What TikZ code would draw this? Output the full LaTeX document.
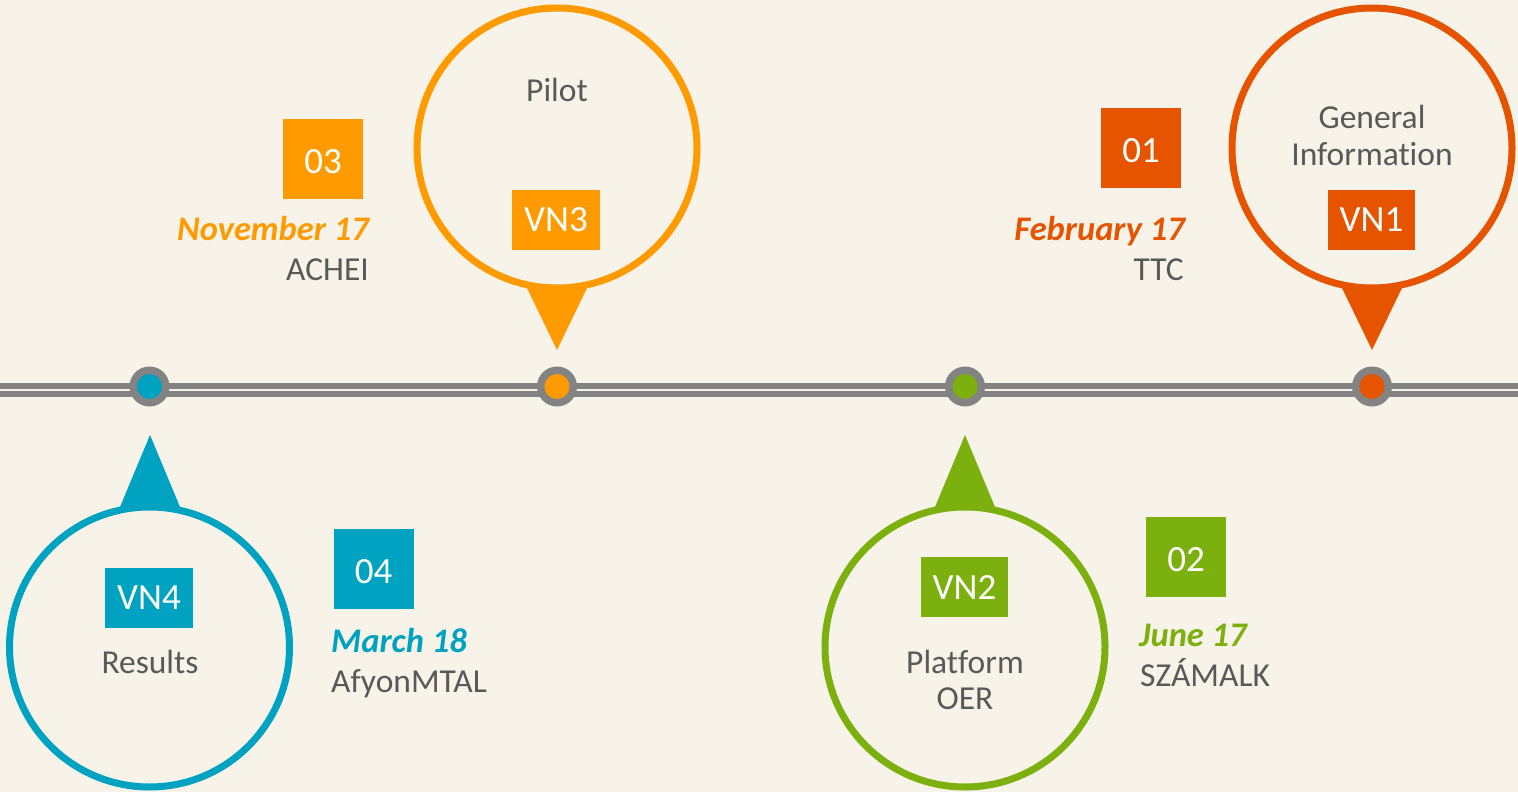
\documentclass[tikz,border=0pt]{standalone}
\usepackage{fontspec}
\setmainfont{Carlito}[Ligatures=NoCommon]
\definecolor{bg}{HTML}{F7F3E9}
\definecolor{lin}{HTML}{838383}
\definecolor{txt}{HTML}{595959}
\definecolor{cred}{HTML}{E65400}
\definecolor{corg}{HTML}{FF9A00}
\definecolor{cgrn}{HTML}{7BB00E}
\definecolor{cblu}{HTML}{00A2C1}
\tikzset{
  body/.style={font=\fontsize{33.5}{40}\selectfont, text=txt, inner sep=0},
  datetxt/.style={font=\fontsize{34.5}{40}\selectfont\bfseries\itshape, text=#1, inner sep=0},
  numbox/.style={fill=#1, text=white, font=\fontsize{37}{44}\selectfont, minimum width=80, minimum height=80, inner sep=0, text height=29pt, text depth=0pt},
  vnbox/.style={fill=#1, text=white, font=\fontsize{37}{44}\selectfont, minimum height=60, inner xsep=12, inner ysep=0},
  bubble/.style={circle, draw=#1, line width=7, fill=bg, minimum size=280, inner sep=0},
  dotout/.style={circle, fill=lin, minimum size=40, inner sep=0},
  dotin/.style={circle, fill=#1, minimum size=25, inner sep=0},
  railline/.style={draw=lin, line width=6},
}
\begin{document}
\begin{tikzpicture}[x=1pt,y=-1pt]
\fill[bg] (0,0) rectangle (1518,792);
\useasboundingbox (0,0) rectangle (1518,792);
% timeline
\coordinate (la) at (0,386.3);
\coordinate (lb) at (1518,386.3);
\coordinate (lc) at (0,394.2);
\coordinate (ld) at (1518,394.2);
\draw[railline] (la) -- (lb);
\draw[railline] (lc) -- (ld);
% dots
\node[dotout] (d4) at (149.5,386.5) {};
\node[dotout] (d3) at (557,386.5) {};
\node[dotout] (d2) at (965,386.5) {};
\node[dotout] (d1) at (1372,386.5) {};
\node[dotin=cblu] (i4) at (d4) {};
\node[dotin=corg] (i3) at (d3) {};
\node[dotin=cgrn] (i2) at (d2) {};
\node[dotin=cred] (i1) at (d1) {};
% pointers
\coordinate (p1) at (1372,350);
\coordinate (p3) at (557,350);
\coordinate (p4) at (150,435);
\coordinate (p2) at (965,435);
\fill[cred] (p1) -- ++(-60,-124) -- ++(120,0) -- cycle;
\fill[corg] (p3) -- ++(-60,-124) -- ++(120,0) -- cycle;
\fill[cblu] (p4) -- ++(-60,144) -- ++(120,0) -- cycle;
\fill[cgrn] (p2) -- ++(-60,144) -- ++(120,0) -- cycle;
% bubbles
\node[bubble=cred] (c1) at (1372,148) {};
\node[bubble=corg] (c3) at (557,148) {};
\node[bubble=cblu] (c4) at (149.5,647) {};
\node[bubble=cgrn] (c2) at (965,647) {};
% VN1
\node[body, anchor=base] (g1) at (1372,128) {General};
\node[body, anchor=base] (g2) at (1372,165) {Information};
\node[vnbox=cred] (v1) at (1371.5,220) {VN1};
\node[numbox=cred] (n1) at (1141,148) {01};
\node[datetxt=cred, anchor=base east] (t1) at (1185,240) {February 17};
\node[body, anchor=base east] (o1) at (1184,280) {TTC};
% VN3
\node[body, anchor=base] (g3) at (557,101) {Pilot};
\node[vnbox=corg] (v3) at (556,220) {VN3};
\node[numbox=corg] (n3) at (323,159) {03};
\node[datetxt=corg, anchor=base east] (t3) at (369,240) {November 17};
\node[body, anchor=base east] (o3) at (369,280) {ACHEI};
% VN4
\node[vnbox=cblu] (v4) at (149,598) {VN4};
\node[body, anchor=base] (g4) at (150,673) {Results};
\node[numbox=cblu] (n4) at (373.5,569) {04};
\node[datetxt=cblu, anchor=base west] (t4) at (331,652) {March 18};
\node[body, anchor=base west] (o4) at (331,692) {AfyonMTAL};
% VN2
\node[vnbox=cgrn] (v2) at (964.5,587) {VN2};
\node[body, anchor=base] (g5) at (965,673) {Platform};
\node[body, anchor=base] (g6) at (965,709) {OER};
\node[numbox=cgrn] (n2) at (1186,557) {02};
\node[datetxt=cgrn, anchor=base west] (t2) at (1139,646) {June 17};
\node[body, anchor=base west] (o2) at (1140,686) {SZÁMALK};
\end{tikzpicture}
\end{document}
